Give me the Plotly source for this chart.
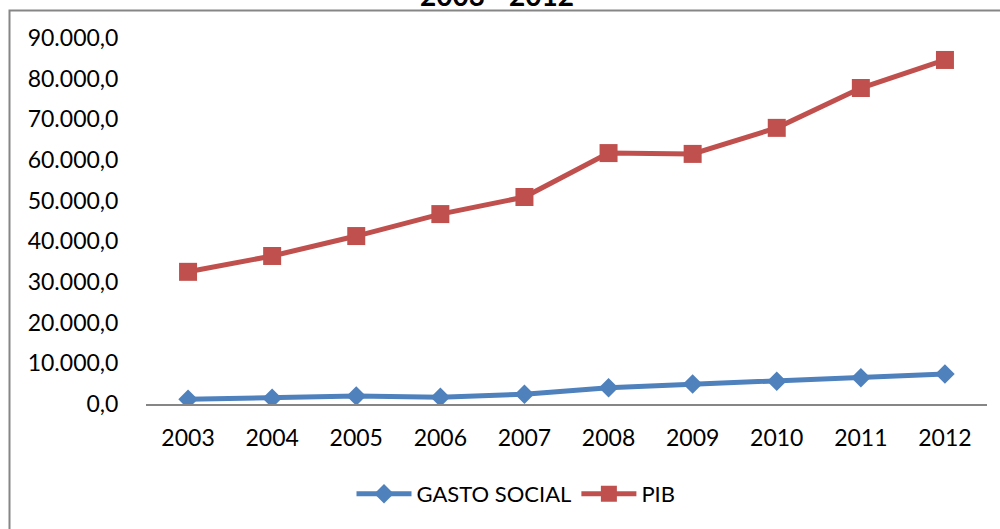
import plotly.graph_objects as go

# Annual series, 2003-2012
years = ["2003", "2004", "2005", "2006", "2007", "2008", "2009", "2010", "2011", "2012"]
gasto_social = [1150, 1400, 1950, 1650, 2400, 4000, 4900, 5600, 6450, 7400]
pib = [32500, 36400, 41300, 46700, 50900, 61700, 61500, 67900, 77700, 84600]

y_ticks = [0, 10000, 20000, 30000, 40000, 50000, 60000, 70000, 80000, 90000]

BLUE = "#4F81BD"
RED = "#C0504D"
FONT = "Lato"

fig = go.Figure()
fig.add_trace(go.Scatter(
    x=years, y=gasto_social, name="GASTO SOCIAL", mode="lines+markers",
    line=dict(color=BLUE, width=5),
    marker=dict(symbol="diamond", size=15, color=BLUE),
))
fig.add_trace(go.Scatter(
    x=years, y=pib, name="PIB", mode="lines+markers",
    line=dict(color=RED, width=5),
    marker=dict(symbol="square", size=18, color=RED),
))

# plot-area geometry in pixels, used to place the outer frame
L, R, T, B = 146, 987, 38, 404
W, H = R - L, B - T

def px(x):
    return (x - L) / W

def py(y):
    return (B - y) / H

fig.update_layout(
    width=1000, height=529,
    margin=dict(l=L, r=1000 - R, t=T, b=529 - B),
    paper_bgcolor="white", plot_bgcolor="white",
    separators=",.",
    font=dict(family=FONT, size=23, color="black"),
    showlegend=True,
    legend=dict(
        orientation="h", xanchor="center", x=px(516), yanchor="middle", y=py(494),
        font=dict(family=FONT, size=22, color="black"),
        itemwidth=55, bgcolor="rgba(0,0,0,0)",
    ),
    xaxis=dict(
        type="category", range=[-0.5, 9.5], showgrid=False, zeroline=False,
        showline=True, linecolor="#868686", linewidth=2,
        ticks="outside", ticklen=12, tickcolor="rgba(0,0,0,0)",
        tickfont=dict(family=FONT, size=23, color="black"),
    ),
    yaxis=dict(
        range=[0, 90000], tickvals=y_ticks, tickformat=",.1f",
        showgrid=False, zeroline=False, showline=False,
        ticks="outside", ticklen=22, tickcolor="rgba(0,0,0,0)",
        tickfont=dict(family=FONT, size=23, color="black"),
    ),
    shapes=[dict(
        type="rect", xref="paper", yref="paper",
        x0=px(9.5), x1=px(1010), y0=py(540), y1=py(10.5),
        line=dict(color="#868686", width=2), fillcolor="rgba(0,0,0,0)", layer="below",
    )],
    annotations=[dict(
        text="<b>2003 - 2012</b>", xref="paper", yref="paper",
        x=px(497), y=py(14), xanchor="center", yanchor="bottom", showarrow=False,
        font=dict(family=FONT, size=28, color="black"),
    )],
)

fig.write_html("out.html")
